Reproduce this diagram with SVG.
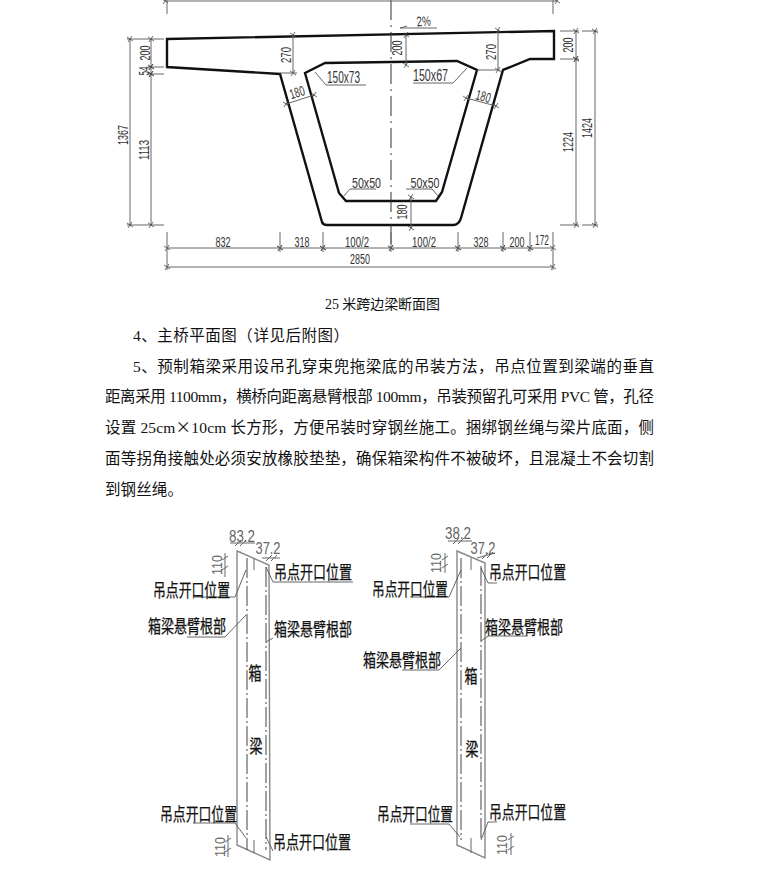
<svg xmlns="http://www.w3.org/2000/svg" width="775" height="874" viewBox="0 0 775 874">
<style>
.body{font-family:"Liberation Serif","Noto Sans CJK SC",serif;font-size:15.5px;fill:#111}
.cap{font-family:"Liberation Serif","Noto Sans CJK SC",serif;font-size:14px;fill:#111}
.cjk{font-family:"Noto Sans CJK SC",sans-serif}
.dim{font-family:"Liberation Sans","Noto Sans CJK SC",sans-serif;font-size:14px;fill:#333;text-anchor:middle}
.dimb{font-family:"Liberation Sans",sans-serif;font-size:16px;fill:#333;text-anchor:middle}
.lab{font-family:"Noto Sans CJK SC",sans-serif;font-size:18px;fill:#111;stroke:#111;stroke-width:.25}
.big{font-family:"Noto Sans CJK SC",sans-serif;font-size:18px;fill:#111;stroke:#111;stroke-width:.3;text-anchor:middle}
.gray{font-family:"Liberation Sans",sans-serif;font-size:17px;fill:#666;text-anchor:middle}
.grayr{font-family:"Liberation Sans",sans-serif;font-size:14px;fill:#666;text-anchor:middle}
.beam{fill:none;stroke:#111;stroke-width:2.4;stroke-linejoin:miter}
.thin{fill:none;stroke:#666;stroke-width:1}
.dl{fill:none;stroke:#666;stroke-width:1;marker-start:url(#t);marker-end:url(#t)}
.cen{fill:none;stroke:#333;stroke-width:1;stroke-dasharray:20 5 2 5}
.edge{fill:none;stroke:#888;stroke-width:1.4}
.dash{fill:none;stroke:#444;stroke-width:1;stroke-dasharray:20 3 2 3}
.lead{fill:none;stroke:#555;stroke-width:.9}
</style>
<defs>
<marker id="t" markerUnits="userSpaceOnUse" markerWidth="8" markerHeight="8" viewBox="-4 -4 8 8" orient="0" overflow="visible">
<path d="M-3-2L3 2M-2 3L2-3" stroke="#444" stroke-width=".8" fill="none"/>
</marker>
</defs>
<rect width="775" height="874" fill="#fff"/>

<g id="section-outline">
<path class="beam" d="M167 39L554 31V59H530L503 70L461 218Q459 225 453 225H327Q323 225 322 222L280 74L167 67Z"/>
<path class="beam" d="M305 73L325 63L457 61L477 70L442 192L436 201H346L339 193Z"/>
<path class="cen" d="M391 0V248"/>
</g>

<g id="section-dimensions">
<path class="dl" d="M165 1H557"/>
<path class="thin" d="M167 0V14M553 0V14"/>
<path class="thin" d="M127 39H164M148 67H164M148 74H164M127 225H164"/>
<path class="dl" d="M130 39V225"/>
<path class="dl" d="M151 39V67"/><path class="dl" d="M151 67V74"/><path class="dl" d="M151 74V225"/>
<path class="dl" d="M293 35V73"/><path class="thin" d="M280 73H297"/>
<path class="dl" d="M286 104L314 95"/>
<path class="dl" d="M406 35V65"/>
<path class="dl" d="M498 30V70"/><path class="thin" d="M477 70H500"/>
<path class="dl" d="M466 98L496 106"/>
<path class="thin" d="M366 85H326L315 72M413 83H453L467 68"/>
<path class="thin" d="M376 189H350L343 197M406 189H432L438 196"/>
<path class="thin" d="M437 28H400L407 26"/>
<path class="thin" d="M560 31H579M582 31H598M560 59H579M560 225H579M582 225H598"/>
<path class="dl" d="M576 31V59"/><path class="dl" d="M576 59V225"/><path class="dl" d="M595 31V225"/>
<path class="dl" d="M411 197V228"/>
<path class="dl" d="M167 248H280"/><path class="dl" d="M280 248H323"/><path class="dl" d="M323 248H391"/><path class="dl" d="M391 248H458"/><path class="dl" d="M458 248H503"/><path class="dl" d="M503 248H530"/><path class="dl" d="M530 248H553"/>
<path class="dl" d="M167 267H553"/>
<path class="thin" d="M167 232V270M280 232V252M323 232V252M391 232V252M458 232V252M503 232V252M530 232V252M553 232V270"/>
<text class="dim" transform="translate(150,53) rotate(-90)" textLength="15" lengthAdjust="spacingAndGlyphs">200</text>
<text class="dim" transform="translate(149,71) rotate(-90)" textLength="9" lengthAdjust="spacingAndGlyphs">54</text>
<text class="dim" transform="translate(148.5,150) rotate(-90)" textLength="20" lengthAdjust="spacingAndGlyphs">1113</text>
<text class="dim" transform="translate(128,135) rotate(-90)" textLength="20" lengthAdjust="spacingAndGlyphs">1367</text>
<text class="dim" transform="translate(290.5,55) rotate(-90)" textLength="16" lengthAdjust="spacingAndGlyphs">270</text>
<text class="dim" transform="translate(298.5,97) rotate(-17)" textLength="15" lengthAdjust="spacingAndGlyphs">180</text>
<text class="dimb" x="343.5" y="83" textLength="33" lengthAdjust="spacingAndGlyphs">150x73</text>
<text class="dim" transform="translate(424,26) rotate(-5)" font-size="15" textLength="14" lengthAdjust="spacingAndGlyphs">2%</text>
<text class="dim" transform="translate(402,48) rotate(-90)" textLength="15" lengthAdjust="spacingAndGlyphs">200</text>
<text class="dim" transform="translate(495.6,52) rotate(-90)" textLength="16" lengthAdjust="spacingAndGlyphs">270</text>
<text class="dimb" x="430.5" y="81" textLength="35" lengthAdjust="spacingAndGlyphs">150x67</text>
<text class="dim" transform="translate(482,101) rotate(15)" textLength="15" lengthAdjust="spacingAndGlyphs">180</text>
<text class="dim" transform="translate(573,45) rotate(-90)" textLength="15" lengthAdjust="spacingAndGlyphs">200</text>
<text class="dim" transform="translate(573,142) rotate(-90)" textLength="20" lengthAdjust="spacingAndGlyphs">1224</text>
<text class="dim" transform="translate(591.5,128) rotate(-90)" textLength="20" lengthAdjust="spacingAndGlyphs">1424</text>
<text class="dim" transform="translate(406.5,212) rotate(-90)" textLength="15" lengthAdjust="spacingAndGlyphs">180</text>
<text class="dim" x="366.5" y="188" textLength="29" lengthAdjust="spacingAndGlyphs">50x50</text>
<text class="dim" x="425" y="188" textLength="29" lengthAdjust="spacingAndGlyphs">50x50</text>
<text class="dim" x="223" y="247" textLength="15" lengthAdjust="spacingAndGlyphs">832</text>
<text class="dim" x="302" y="247" textLength="15" lengthAdjust="spacingAndGlyphs">318</text>
<text class="dim" x="357" y="247" textLength="24" lengthAdjust="spacingAndGlyphs">100/2</text>
<text class="dim" x="424" y="247" textLength="24" lengthAdjust="spacingAndGlyphs">100/2</text>
<text class="dim" x="481" y="247" textLength="15" lengthAdjust="spacingAndGlyphs">328</text>
<text class="dim" x="517" y="247" textLength="15" lengthAdjust="spacingAndGlyphs">200</text>
<text class="dim" x="542" y="245" textLength="14" lengthAdjust="spacingAndGlyphs">172</text>
<text class="dim" x="360" y="264" textLength="20" lengthAdjust="spacingAndGlyphs">2850</text>
</g>

<g id="body-text">
<text class="cap" x="325" y="309" textLength="115">25 米跨边梁断面图</text>
<text class="body" x="133" y="341" textLength="216">4、主桥平面图（详见后附图）</text>
<text class="body" x="133" y="372" textLength="521">5、预制箱梁采用设吊孔穿束兜拖梁底的吊装方法，吊点位置到梁端的垂直</text>
<text class="body" x="105" y="402" textLength="549">距离采用 1100mm，横桥向距离悬臂根部 100mm，吊装预留孔可采用 PVC 管，孔径</text>
<text class="body" x="105" y="433" textLength="549">设置 25cm<tspan class="cjk">×</tspan>10cm 长方形，方便吊装时穿钢丝施工。捆绑钢丝绳与梁片底面，侧</text>
<text class="body" x="105" y="464" textLength="549">面等拐角接触处必须安放橡胶垫垫，确保箱梁构件不被破坏，且混凝土不会切割</text>
<text class="body" x="105" y="495" textLength="78">到钢丝绳。</text>
</g>

<g id="beam-left">
<path class="edge" d="M237 551L269 565L270 860L237 845Z"/>
<path class="dash" d="M247 558V850M266 567V850"/>
<path class="thin" d="M254 558V570M254 840V853"/>
<path class="lead" d="M195 597H235L246 570M187 637H225L246 615M353 582H273L266 567M273 638L266 642M193 823H235L246 838M273 851L266 837"/>
<path class="thin" d="M230 543H255M235 546L241 540M240 546L246 540M262 558H280M266 561L272 555M271 561L277 555M225 553V577M222 560L228 556M222 570L228 566M228 835V857M225 842L231 838M225 852L231 848"/>
<text class="gray" x="242" y="542" textLength="26" lengthAdjust="spacingAndGlyphs">83.2</text>
<text class="gray" x="268" y="554" textLength="25" lengthAdjust="spacingAndGlyphs">37.2</text>
<text class="grayr" transform="translate(222,565) rotate(-90)" textLength="20" lengthAdjust="spacingAndGlyphs">110</text>
<text class="grayr" transform="translate(225,847) rotate(-90)" textLength="20" lengthAdjust="spacingAndGlyphs">110</text>
<text class="lab" x="153" y="597" textLength="77" lengthAdjust="spacingAndGlyphs">吊点开口位置</text>
<text class="lab" x="274" y="579" textLength="78" lengthAdjust="spacingAndGlyphs">吊点开口位置</text>
<text class="lab" x="148" y="633" textLength="78" lengthAdjust="spacingAndGlyphs">箱梁悬臂根部</text>
<text class="lab" x="274" y="636" textLength="78" lengthAdjust="spacingAndGlyphs">箱梁悬臂根部</text>
<text class="lab" x="160" y="821" textLength="77" lengthAdjust="spacingAndGlyphs">吊点开口位置</text>
<text class="lab" x="273" y="849" textLength="78" lengthAdjust="spacingAndGlyphs">吊点开口位置</text>
<text class="big" x="255" y="680" textLength="13" lengthAdjust="spacingAndGlyphs">箱</text>
<text class="big" x="256" y="753" textLength="13" lengthAdjust="spacingAndGlyphs">梁</text>
</g>

<g id="beam-right">
<path class="edge" d="M457 551L485 563V858L457 845Z"/>
<path class="dash" d="M461 558V840M481 566V840"/>
<path class="thin" d="M471 558V570M471 838V853"/>
<path class="lead" d="M410 597H449L461 570M497 583H488L481 568M402 670H439L461 648M527 636H488L481 641M410 824H449L460 837M497 822H488L481 840"/>
<path class="thin" d="M448 541H472M453 544L459 538M458 544L464 538M477 558L495 553M482 559L488 553M487 558L493 552M445 553V573M442 560L448 556M442 568L448 564M511 833V855M508 840L514 836M508 850L514 846"/>
<text class="gray" x="458" y="539" textLength="26" lengthAdjust="spacingAndGlyphs">38.2</text>
<text class="gray" x="483" y="554" textLength="25" lengthAdjust="spacingAndGlyphs">37.2</text>
<text class="grayr" transform="translate(441,563) rotate(-90)" textLength="20" lengthAdjust="spacingAndGlyphs">110</text>
<text class="grayr" transform="translate(507,845) rotate(-90)" textLength="20" lengthAdjust="spacingAndGlyphs">110</text>
<text class="lab" x="372" y="596" textLength="76" lengthAdjust="spacingAndGlyphs">吊点开口位置</text>
<text class="lab" x="489" y="579" textLength="77" lengthAdjust="spacingAndGlyphs">吊点开口位置</text>
<text class="lab" x="363" y="667" textLength="78" lengthAdjust="spacingAndGlyphs">箱梁悬臂根部</text>
<text class="lab" x="485" y="634" textLength="78" lengthAdjust="spacingAndGlyphs">箱梁悬臂根部</text>
<text class="lab" x="377" y="821" textLength="76" lengthAdjust="spacingAndGlyphs">吊点开口位置</text>
<text class="lab" x="489" y="819" textLength="77" lengthAdjust="spacingAndGlyphs">吊点开口位置</text>
<text class="big" x="471" y="683" textLength="13" lengthAdjust="spacingAndGlyphs">箱</text>
<text class="big" x="472" y="756" textLength="13" lengthAdjust="spacingAndGlyphs">梁</text>
</g>
</svg>
